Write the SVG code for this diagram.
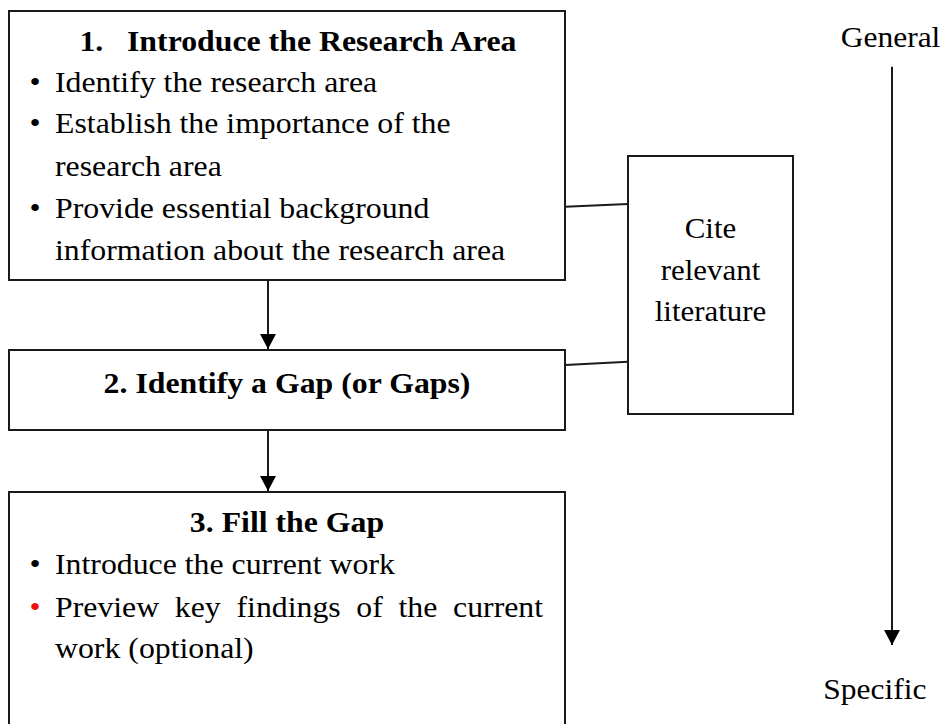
<svg xmlns="http://www.w3.org/2000/svg" width="943" height="724" viewBox="0 0 943 724">
  <style>
    .box { fill: #ffffff; stroke: #1a1a1a; stroke-width: 2; }
    .link { fill: none; stroke: #1a1a1a; stroke-width: 2; }
    .t { font-family: "Liberation Serif", "Times New Roman", serif; font-size: 30px; fill: #000000; }
    .b { font-weight: bold; }
    .mid { text-anchor: middle; }
    .red { fill: #ee1111; }
  </style>
  <defs>
    <marker id="head" markerUnits="userSpaceOnUse" markerWidth="16" markerHeight="16" refX="15" refY="8" orient="auto">
      <path d="M0,0 L15,8 L0,16 Z" fill="#000000"/>
    </marker>
  </defs>

  <rect width="943" height="724" fill="#ffffff"/>

  <!-- connectors -->
  <g id="connectors">
    <line class="link" x1="268" y1="281" x2="268" y2="349" marker-end="url(#head)"/>
    <line class="link" x1="268" y1="431" x2="268" y2="491" marker-end="url(#head)"/>
    <line class="link" x1="565" y1="206.7" x2="628" y2="204"/>
    <line class="link" x1="565" y1="365" x2="628" y2="361.7"/>
    <line class="link" x1="892" y1="66.7" x2="892" y2="645" marker-end="url(#head)"/>
  </g>

  <!-- step 1 -->
  <g id="step1">
    <rect class="box" x="9" y="11" width="556" height="269"/>
    <text class="t b" transform="translate(79.4 50.5) scale(1.06 1)">1.</text>
    <text class="t b" transform="translate(127 50.5) scale(1.06 1)">Introduce the Research Area</text>
    <text class="t" transform="translate(29.5 91.7) scale(1.06 1)">•</text>
    <text class="t" transform="translate(55 91.7) scale(1.06 1)">Identify the research area</text>
    <text class="t" transform="translate(29.5 133) scale(1.06 1)">•</text>
    <text class="t" transform="translate(55 133) scale(1.06 1)">Establish the importance of the</text>
    <text class="t" transform="translate(55 175.5) scale(1.06 1)">research area</text>
    <text class="t" transform="translate(29.5 218) scale(1.06 1)">•</text>
    <text class="t" transform="translate(55 218) scale(1.06 1)">Provide essential background</text>
    <text class="t" transform="translate(55 260) scale(1.06 1)">information about the research area</text>
  </g>

  <!-- step 2 -->
  <g id="step2">
    <rect class="box" x="9" y="350" width="556" height="80"/>
    <text class="t b mid" transform="translate(287 392.5) scale(1.06 1)">2. Identify a Gap (or Gaps)</text>
  </g>

  <!-- step 3 (box runs past the bottom edge) -->
  <g id="step3">
    <rect class="box" x="9" y="492" width="556" height="250"/>
    <text class="t b mid" transform="translate(287 531.7) scale(1.06 1)">3. Fill the Gap</text>
    <text class="t" transform="translate(29.5 574) scale(1.06 1)">•</text>
    <text class="t" transform="translate(55 574) scale(1.06 1)">Introduce the current work</text>
    <text class="t red" transform="translate(29.5 616.7) scale(1.06 1)">•</text>
    <text class="t" transform="translate(55 616.7) scale(1.06 1)" style="word-spacing:7.3px">Preview key findings of the current</text>
    <text class="t" transform="translate(55 658.3) scale(1.06 1)">work (optional)</text>
  </g>

  <!-- literature box -->
  <g id="cite">
    <rect class="box" x="628" y="156" width="165" height="258"/>
    <text class="t mid" transform="translate(710.5 238.3) scale(1.03 1)">Cite</text>
    <text class="t mid" transform="translate(710.5 280) scale(1.03 1)">relevant</text>
    <text class="t mid" transform="translate(710.5 320.7) scale(1.03 1)">literature</text>
  </g>

  <!-- scale labels -->
  <g id="general">
    <text class="t" transform="translate(840.7 46.7) scale(1.05 1)">General</text>
  </g>
  <g id="specific">
    <text class="t" transform="translate(823.3 699) scale(1.05 1)">Specific</text>
  </g>
</svg>
